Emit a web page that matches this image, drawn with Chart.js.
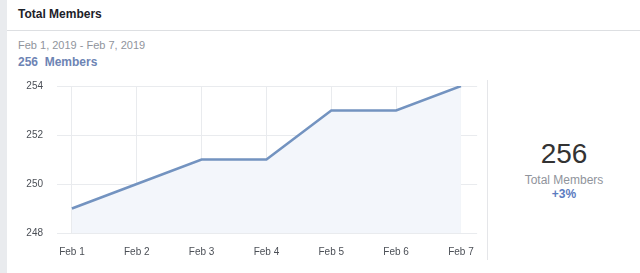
<!DOCTYPE html>
<html lang="en">
<head>
  <meta charset="UTF-8">
  <title>Total Members</title>
  <script src="https://cdn.jsdelivr.net/npm/chart.js"></script>
  <style>
    body {
      margin: 0;
      width: 640px;
      height: 273px;
      background: #fff;
      font-family: 'Liberation Sans', Arial, sans-serif;
      position: relative;
      overflow: hidden;
    }
    .strip { position: absolute; left: 0; top: 0; width: 7px; height: 273px; background: #e9ebee; }
    .title { position: absolute; left: 18px; top: 7px; font-size: 12px; font-weight: bold; color: #1d2129; }
    .rule { position: absolute; left: 7px; right: 0; top: 30px; height: 1px; background: #dddfe2; }
    .range { position: absolute; left: 18px; top: 39px; font-size: 11px; color: #90949c; }
    .count { position: absolute; left: 18px; top: 55px; font-size: 12px; font-weight: bold; color: #6d84b4; }
    .chart-box { position: absolute; left: 0; top: 66px; width: 487px; height: 204px; }
    .sep { position: absolute; left: 487px; top: 80px; width: 1px; height: 180px; background: #e5e6e9; }
    .summary { position: absolute; left: 488px; width: 152px; top: 135px; text-align: center; }
    .summary .big { font-size: 28px; color: #333; line-height: 38px; }
    .summary .lbl { font-size: 12px; color: #90949c; line-height: 14px; }
    .summary .pct { font-size: 12px; font-weight: bold; color: #5b7bc0; line-height: 14px; }
  </style>
</head>
<body>
  <div class="strip"></div>
  <div class="title">Total Members</div>
  <div class="rule"></div>
  <div class="range">Feb 1, 2019 - Feb 7, 2019</div>
  <div class="count">256&nbsp; Members</div>
  <div class="chart-box"><canvas id="membersChart"></canvas></div>
  <div class="sep"></div>
  <div class="summary">
    <div class="big">256</div>
    <div class="lbl">Total Members</div>
    <div class="pct">+3%</div>
  </div>

  <script>
    const days = ['Feb 1', 'Feb 2', 'Feb 3', 'Feb 4', 'Feb 5', 'Feb 6', 'Feb 7'];
    const members = [249, 250, 251, 251, 253, 253, 254];
    const yTicks = [248, 250, 252, 254];

    new Chart(document.getElementById('membersChart').getContext('2d'), {
      type: 'line',
      data: {
        datasets: [{
          label: 'Members',
          data: members.map((v, i) => ({ x: i, y: v })),
          borderColor: '#7393c0',
          backgroundColor: '#f3f6fb',
          borderWidth: 2.5,
          fill: 'start',
          pointRadius: 0,
          tension: 0
        }]
      },
      options: {
        responsive: true,
        maintainAspectRatio: false,
        animation: false,
        layout: { padding: { top: 11, right: 7, left: 0, bottom: 0 } },
        plugins: { legend: { display: false }, tooltip: { enabled: false } },
        scales: {
          x: {
            type: 'linear',
            min: -0.23,
            max: 6.25,
            ticks: {
              stepSize: 1,
              includeBounds: false,
              color: '#4b4f56',
              font: { size: 10, family: "'Liberation Sans', Arial, sans-serif" },
              padding: 13,
              maxRotation: 0,
              callback: v => days[v]
            },
            grid: { color: '#e9ebee', drawTicks: false },
            border: { display: false },
            afterFit: s => { s.height = 37; }
          },
          y: {
            min: yTicks[0],
            max: yTicks[yTicks.length - 1],
            afterBuildTicks: s => { s.ticks = yTicks.map(v => ({ value: v })); },
            ticks: {
              color: '#4b4f56',
              font: { size: 10, family: "'Liberation Sans', Arial, sans-serif" },
              padding: 14
            },
            grid: { color: '#e9ebee', drawTicks: false },
            border: { display: false },
            afterFit: s => { s.width = 57; }
          }
        }
      }
    });
  </script>
</body>
</html>
